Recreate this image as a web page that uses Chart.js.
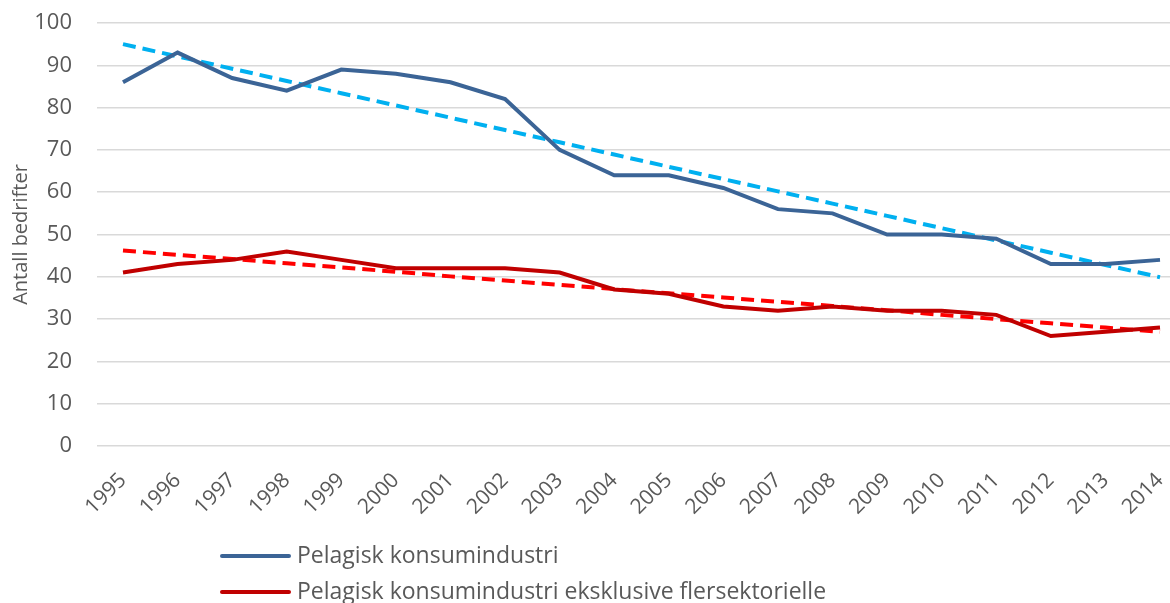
<!DOCTYPE html>
<html>
<head>
<meta charset="utf-8">
<script src="https://cdn.jsdelivr.net/npm/chart.js@4/dist/chart.umd.min.js"></script>
<style>
  html, body { margin: 0; padding: 0; background: #fff; }
  #wrap { width: 1170px; height: 603px; }
</style>
</head>
<body>
<div id="wrap"><canvas id="myChart"></canvas></div>
<script>
const years = [1995, 1996, 1997, 1998, 1999, 2000, 2001, 2002, 2003, 2004,
               2005, 2006, 2007, 2008, 2009, 2010, 2011, 2012, 2013, 2014];
const pelagisk = [86, 93, 87, 84, 89, 88, 86, 82, 70, 64, 64, 61, 56, 55, 50, 50, 49, 43, 43, 44];
const eksklusive = [41, 43, 44, 46, 44, 42, 42, 42, 41, 37, 36, 33, 32, 33, 32, 32, 31, 26, 27, 28];
const pelagiskTrend = [95, 92.1, 89.2, 86.3, 83.4, 80.5, 77.6, 74.7, 71.8, 68.9,
                       66, 63.1, 60.2, 57.3, 54.4, 51.5, 48.6, 45.7, 42.8, 39.9];
const eksklusiveTrend = [46.2, 45.2, 44.2, 43.2, 42.2, 41.2, 40.1, 39.1, 38.1, 37.1,
                         36.1, 35.1, 34.1, 33.1, 32.1, 31.0, 30.0, 29.0, 28.0, 27.0];
const seriesNames = ['Pelagisk konsumindustri', 'Pelagisk konsumindustri eksklusive flersektorielle'];
const yTicks = [0, 10, 20, 30, 40, 50, 60, 70, 80, 90, 100];

const FONT = "'Open Sans', 'Liberation Sans', sans-serif";
const TEXT = '#595959';

const pts = vals => years.map((y, i) => ({ x: y, y: vals[i] }));

// legend stacked under the chart, only the two real series
const stackedLegend = {
  id: 'stackedLegend',
  afterDraw(chart) {
    const c = chart.ctx;
    c.save();
    c.font = '23px ' + FONT;
    c.textBaseline = 'middle';
    [0, 1].forEach((i, row) => {
      const ds = chart.data.datasets[i];
      const y = 556 + row * 36;
      c.strokeStyle = ds.borderColor;
      c.lineWidth = 4;
      c.lineCap = 'round';
      c.beginPath();
      c.moveTo(222, y);
      c.lineTo(289, y);
      c.stroke();
      c.fillStyle = TEXT;
      c.fillText(ds.label, 297, y);
    });
    c.restore();
  }
};

const ctx = document.getElementById('myChart');

new Chart(ctx, {
  type: 'line',
  data: {
    datasets: [
      { label: seriesNames[0], data: pts(pelagisk), borderColor: '#3b6496', borderWidth: 4, pointRadius: 0, tension: 0 },
      { label: seriesNames[1], data: pts(eksklusive), borderColor: '#c00000', borderWidth: 4, pointRadius: 0, tension: 0 },
      { label: 'trend1', data: pts(pelagiskTrend), borderColor: '#00b0f0', borderWidth: 4, borderDash: [13, 7], pointRadius: 0 },
      { label: 'trend2', data: pts(eksklusiveTrend), borderColor: '#ff0000', borderWidth: 4, borderDash: [13, 7], pointRadius: 0 }
    ]
  },
  options: {
    responsive: true,
    maintainAspectRatio: false,
    animation: false,
    layout: { padding: { top: 23, right: 0, left: 0, bottom: 0 } },
    plugins: { legend: { display: false }, tooltip: { enabled: false } },
    scales: {
      x: {
        type: 'linear',
        min: 1994.524,
        max: 2014.183,
        grid: { display: false },
        border: { display: false },
        afterFit(scale) {
          scale.height = 157;
          scale.paddingLeft = 0;
          scale.paddingRight = 0;
        },
        ticks: {
          stepSize: 1,
          includeBounds: false,
          autoSkip: false,
          minRotation: 45,
          maxRotation: 45,
          padding: 14,
          color: TEXT,
          font: { family: FONT, size: 21 },
          callback: v => (years.includes(v) ? String(v) : '')
        }
      },
      y: {
        min: 0,
        max: 100,
        afterFit(scale) {
          scale.width = 97;
          scale.paddingTop = 0;
          scale.paddingBottom = 0;
        },
        afterBuildTicks(scale) { scale.ticks = yTicks.map(v => ({ value: v })); },
        grid: { color: '#d9d9d9', lineWidth: 1.5, drawTicks: false },
        border: { display: false },
        ticks: {
          padding: 25,
          color: TEXT,
          font: { family: FONT, size: 22 }
        },
        title: {
          display: true,
          text: 'Antall bedrifter',
          color: TEXT,
          font: { family: FONT, size: 20 },
          padding: { top: 9, bottom: 0 }
        }
      }
    }
  },
  plugins: [stackedLegend]
});
</script>
</body>
</html>
